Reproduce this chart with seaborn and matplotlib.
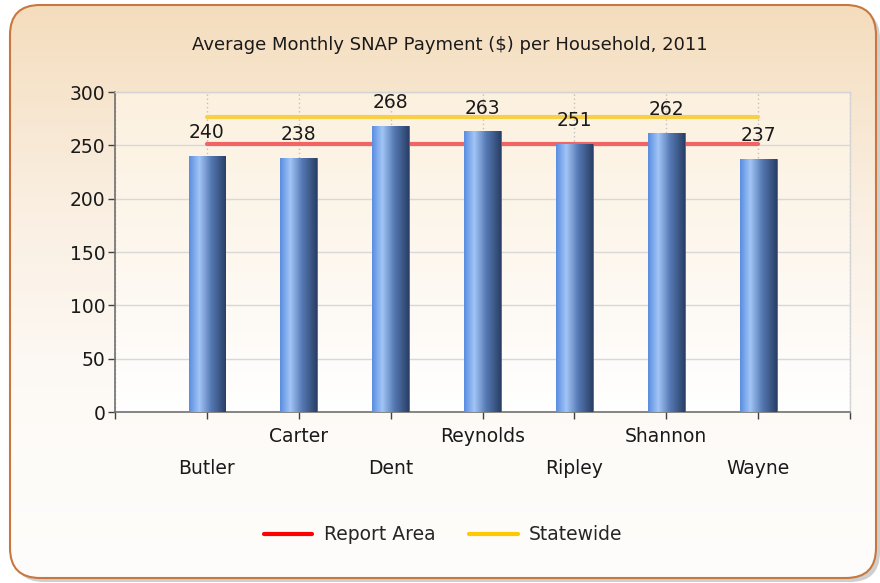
import numpy as np
import pandas as pd
import matplotlib
matplotlib.use("Agg")
import matplotlib.pyplot as plt
import seaborn as sns
from matplotlib.patches import FancyBboxPatch
from matplotlib.colors import LinearSegmentedColormap
from matplotlib.lines import Line2D

# ---- data ----
counties = ["Butler", "Carter", "Dent", "Reynolds", "Ripley", "Shannon", "Wayne"]
payments = [240, 238, 268, 263, 251, 262, 237]
report_area = 251
statewide = 277
y_ticks = [0, 50, 100, 150, 200, 250, 300]
series_names = ["Report Area", "Statewide"]
title = "Average Monthly SNAP Payment ($) per Household, 2011"

sns.set_theme(style="white")
plt.rcParams['font.family'] = ['DejaVu Sans']
FS = 13.5

fig = plt.figure(figsize=(8.8, 5.83), dpi=100)

# ---- outer background with rounded border ----
bg = fig.add_axes([0, 0, 1, 1])
bg.set_xlim(0, 880)
bg.set_ylim(583, 0)
bg.axis('off')
shadow = FancyBboxPatch((14, 9), 866, 573, boxstyle="round,pad=0,rounding_size=30",
                        fc="#a0a0a0", ec="none", alpha=0.5, zorder=0)
bg.add_patch(shadow)
box = FancyBboxPatch((10, 5), 866, 573, boxstyle="round,pad=0,rounding_size=30",
                     fc="none", ec="#c8783f", lw=1.5, zorder=2)
bg.add_patch(box)
bgcmap = LinearSegmentedColormap.from_list("bgc", ["#f4ddbd", "#faeee0", "#fdfaf6", "#fefdfb"])
grad = np.linspace(0, 1, 256).reshape(-1, 1)
im = bg.imshow(grad, extent=[10, 876, 578, 5], cmap=bgcmap, aspect='auto', zorder=1)
im.set_clip_path(box)

fig.text(450 / 880, 1 - 45 / 583, title, ha='center', va='center', fontsize=13, color="#1a1a1a")

# ---- main axes ----
ax = fig.add_axes([115 / 880, 1 - 412 / 583, 735 / 880, 320 / 583])
ax.patch.set_alpha(0)
pcmap = LinearSegmentedColormap.from_list("pc", ["#fcf1df", "#fdf7ee", "#ffffff"])
ax.imshow(grad, extent=[0, 1, 0, 1], transform=ax.transAxes, cmap=pcmap,
          aspect='auto', zorder=-1, origin='upper')

# reference lines (behind bars)
line_df = pd.DataFrame({"County": counties * 2,
                        "Value": [report_area] * len(counties) + [statewide] * len(counties),
                        "Series": [series_names[0]] * len(counties) + [series_names[1]] * len(counties)})
sns.lineplot(data=line_df, x="County", y="Value", hue="Series",
             palette={series_names[0]: "#f26464", series_names[1]: "#f7d048"},
             lw=3, ax=ax, legend=False, zorder=2)

df = pd.DataFrame({"County": counties, "Payment": payments})
sns.barplot(data=df, x="County", y="Payment", width=0.4, color="#5b8fdf",
            ax=ax, zorder=3, edgecolor="#50607a", linewidth=0.6)

barcmap = LinearSegmentedColormap.from_list(
    "bar", [(0, "#5a8de0"), (0.28, "#a2c5f6"), (0.6, "#5579b4"), (1, "#2a3f66")])
hgrad = np.linspace(0, 1, 256).reshape(1, -1)
for p in ax.patches:
    x0, y0 = p.get_x(), p.get_y()
    w, h = p.get_width(), p.get_height()
    bi = ax.imshow(hgrad, extent=[x0, x0 + w, y0, y0 + h], cmap=barcmap,
                   aspect='auto', zorder=3.5, origin='lower')
    bi.set_clip_path(p)

for i, v in enumerate(payments):
    ax.annotate(str(v), (i, v), xytext=(0, 10), textcoords='offset points',
                ha='center', va='bottom', fontsize=FS, color="#1a1a1a", zorder=5)

ax.set_xlim(-1, 7)
ax.set_ylim(0, 300)
ax.set_yticks(y_ticks)
ax.set_yticklabels([str(t) for t in y_ticks])
ax.set_xticks([0, 2, 4, 6])
ax.set_xticklabels(counties[0::2])
ax.set_xticks([-1, 1, 3, 5, 7], minor=True)
ax.set_xticklabels([""] + counties[1::2] + [""], minor=True)
ax.set_xlabel("")
ax.set_ylabel("")

ax.tick_params(axis='y', direction='out', length=5, width=1, color="#404040",
               labelsize=FS, pad=2, labelcolor="#1a1a1a", left=True)
ax.tick_params(axis='x', which='major', direction='out', length=5, width=1, color="#404040",
               labelsize=FS, pad=29, labelcolor="#1a1a1a", bottom=True)
ax.tick_params(axis='x', which='minor', direction='out', length=5, width=1, color="#404040",
               labelsize=FS, pad=6, labelcolor="#1a1a1a", bottom=True)

ax.grid(axis='y', color="#d8d8d8", lw=1, linestyle='-')
ax.grid(axis='x', which='both', color="#c0c0c0", lw=1, linestyle=(0, (1, 2)))
ax.set_axisbelow(True)
for s in ['left', 'bottom']:
    ax.spines[s].set_color("#707070")
    ax.spines[s].set_linewidth(1.2)
for s in ['top', 'right']:
    ax.spines[s].set_color("#d4d4d4")
    ax.spines[s].set_linewidth(1)

handles = [Line2D([], [], color="#ff0000", lw=3), Line2D([], [], color="#ffc800", lw=3)]
fig.legend(handles, series_names, loc='center', bbox_to_anchor=(443 / 880, 1 - 535 / 583),
           ncol=2, frameon=False, fontsize=FS, handlelength=2.6, columnspacing=1.8,
           handletextpad=0.6)

fig.savefig("out.png", dpi=100)
